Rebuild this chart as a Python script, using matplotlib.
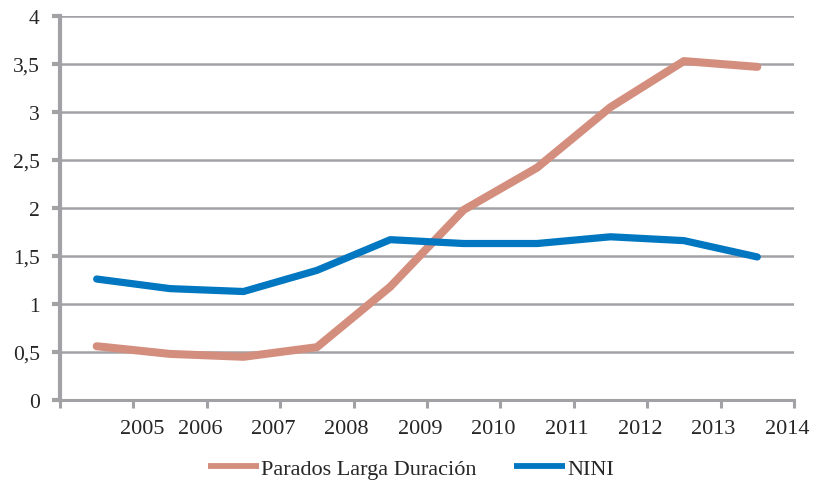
import numpy as np
import matplotlib.pyplot as plt

plt.rcParams['font.family'] = ['Liberation Serif', 'DejaVu Serif']

# data
years = ['2005', '2006', '2007', '2008', '2009', '2010', '2011', '2012', '2013', '2014']
parados = [0.56, 0.48, 0.45, 0.55, 1.18, 1.98, 2.42, 3.05, 3.53, 3.47]
nini = [1.26, 1.16, 1.13, 1.35, 1.67, 1.63, 1.63, 1.70, 1.66, 1.49]
y_ticks = [0, 0.5, 1, 1.5, 2, 2.5, 3, 3.5, 4]

grid_color = '#a2a2a6'
text_color = '#262626'

fig = plt.figure(figsize=(8.14, 4.85), dpi=100)
ax = fig.add_axes([0.0737, 0.1732, 0.9017, 0.7918])

x = np.arange(len(parados)) + 0.5
ax.plot(x, parados, color='#d48e7e', lw=5.8, solid_capstyle='round',
        solid_joinstyle='round', label='Parados Larga Duración', zorder=3)
ax.plot(x, nini, color='#0077c0', lw=5.2, solid_capstyle='round',
        solid_joinstyle='round', label='NINI', zorder=4)

ax.set_xlim(0, 10)
ax.set_ylim(0, 4)
ax.set_yticks(y_ticks)
ax.set_yticklabels([('%g' % v).replace('.', ',') for v in y_ticks])

# tick marks on the category borders, labels a little to the left of them
# (the first one sits to the right, as in the original)
label_pos = np.arange(1, 11) - 0.095
label_pos[0] = 1.12
ax.set_xticks(np.arange(0, 11), minor=True)
ax.set_xticks(label_pos)
ax.set_xticklabels(years)

for v in y_ticks[1:]:
    ax.axhline(v, color=grid_color, lw=1.8, zorder=1)

for side in ['top', 'right']:
    ax.spines[side].set_visible(False)
ax.spines['left'].set_color(grid_color)
ax.spines['left'].set_linewidth(3.0)
ax.spines['bottom'].set_color(grid_color)
ax.spines['bottom'].set_linewidth(2.2)

ax.tick_params(axis='y', length=5.5, width=3.0, color=grid_color,
               labelsize=15.5, labelcolor=text_color, pad=9)
ax.tick_params(axis='x', which='major', length=0, labelsize=16,
               labelcolor=text_color, pad=14)
ax.tick_params(axis='x', which='minor', length=5.5, width=2.2, color=grid_color)

leg = fig.legend(loc='lower center', bbox_to_anchor=(0.505, -0.03), ncol=2, frameon=False,
                 fontsize=16, handlelength=2.3, handletextpad=0.1, columnspacing=1.7,
                 labelcolor=text_color)
for h in leg.legend_handles:
    h.set_linewidth(4.2)
    h.set_solid_capstyle('butt')

fig.savefig('out.png', dpi=100)
